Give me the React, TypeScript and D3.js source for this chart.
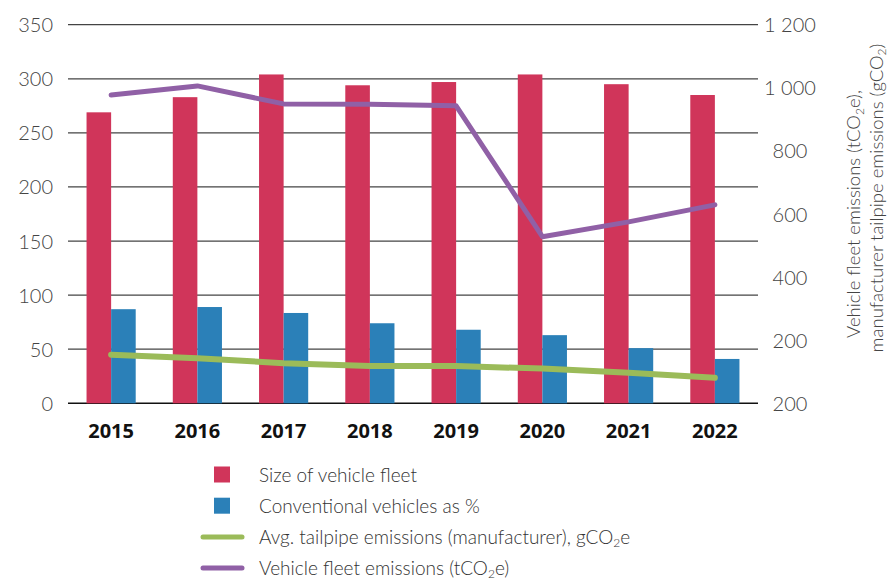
import * as React from "react";
import * as d3 from "d3";

const years = ["2015", "2016", "2017", "2018", "2019", "2020", "2021", "2022"];
const fleetSize = [269, 283, 304, 294, 297, 304, 295, 285];
const conventionalPct = [87, 89, 83.5, 74, 68, 63, 51, 41];
const tailpipe = [154, 143, 127, 118, 118, 110, 97, 81];
const fleetEmissions = [977, 1006, 949, 948, 943, 528, 575, 629];
const leftTicks = [0, 50, 100, 150, 200, 250, 300, 350];
const rightTicks = [0, 200, 400, 600, 800, 1000, 1200];
const rightTickLabels = ["200", "200", "400", "600", "800", "1 000", "1 200"];

const RED = "#d0355a";
const BLUE = "#2b80b8";
const GREEN = "#9bbb59";
const PURPLE = "#9060a6";
const FONT = "Lato, 'Open Sans', sans-serif";

export default function App() {
  const width = 890;
  const height = 582;
  const left = 68;
  const right = 758;
  const top = 24.7;
  const bottom = 403.3;

  const x = d3
    .scaleBand()
    .domain(years)
    .range([left, right])
    .paddingInner(0.43)
    .paddingOuter(0.215);
  const sub = d3
    .scaleBand()
    .domain(["fleet", "conv"])
    .range([0, x.bandwidth()]);
  const yL = d3.scaleLinear().domain([0, 350]).range([bottom, top]);
  const yR = d3.scaleLinear().domain([0, 1200]).range([bottom, top]);

  const cx = (d) => x(d) + x.bandwidth() / 2;
  const line = d3
    .line()
    .x((d) => cx(d[0]))
    .y((d) => yR(d[1]));

  const tailPts = years.map((y, i) => [y, tailpipe[i]]);
  const fleetPts = years.map((y, i) => [y, fleetEmissions[i]]);

  const legend = [
    { type: "box", color: RED, label: ["Size of vehicle fleet"] },
    { type: "box", color: BLUE, label: ["Conventional vehicles as %"] },
    {
      type: "line",
      color: GREEN,
      label: ["Avg. tailpipe emissions (manufacturer), gCO", "2", "e"],
    },
    { type: "line", color: PURPLE, label: ["Vehicle fleet emissions (tCO", "2", "e)"] },
  ];

  return (
    <svg
      width={width}
      height={height}
      style={{ position: "absolute", left: 0, top: 0 }}
      fontFamily={FONT}
    >
      {/* gridlines + left axis */}
      {leftTicks.map((t) => (
        <g key={t}>
          <line
            x1={left}
            x2={right}
            y1={yL(t)}
            y2={yL(t)}
            stroke={t === 0 ? "#111" : "#444"}
            strokeWidth={t === 0 ? 1.6 : 1.3}
          />
          <text
            x={53}
            y={yL(t) + 7.5}
            textAnchor="end"
            fontSize={20}
            fontWeight={300}
            fill="#444"
          >
            {t}
          </text>
        </g>
      ))}

      {/* right axis labels */}
      {rightTicks.map((t, i) => (
        <text
          key={t}
          x={790}
          y={yR(t) + 7.5}
          textAnchor="middle"
          fontSize={20}
          fontWeight={300}
          fill="#444"
        >
          {rightTickLabels[i]}
        </text>
      ))}

      {/* right axis title */}
      <g transform="translate(860, 214) rotate(-90)">
        <text textAnchor="middle" fontSize={18.5} fontWeight={300} fill="#444">
          Vehicle fleet emissions (tCO
          <tspan fontSize={12} dy={4}>2</tspan>
          <tspan dy={-4}>e),</tspan>
        </text>
      </g>
      <g transform="translate(883, 198) rotate(-90)">
        <text textAnchor="middle" fontSize={18.5} fontWeight={300} fill="#444">
          manufacturer tailpipe emissions (gCO
          <tspan fontSize={12} dy={3}>2</tspan>
          <tspan dy={-3}>)</tspan>
        </text>
      </g>

      {/* bars */}
      {years.map((yr, i) => (
        <g key={yr} transform={`translate(${x(yr)},0)`}>
          <rect
            x={sub("fleet")}
            y={yL(fleetSize[i])}
            width={sub.bandwidth()}
            height={bottom - yL(fleetSize[i])}
            fill={RED}
          />
          <rect
            x={sub("conv")}
            y={yL(conventionalPct[i])}
            width={sub.bandwidth()}
            height={bottom - yL(conventionalPct[i])}
            fill={BLUE}
          />
        </g>
      ))}

      {/* lines */}
      <path
        d={line(tailPts)}
        fill="none"
        stroke={GREEN}
        strokeWidth={6}
        strokeLinecap="round"
        strokeLinejoin="round"
      />
      <path
        d={line(fleetPts)}
        fill="none"
        stroke={PURPLE}
        strokeWidth={5}
        strokeLinecap="round"
        strokeLinejoin="round"
      />

      {/* year labels */}
      {years.map((yr) => (
        <text
          key={yr}
          x={cx(yr)}
          y={438}
          textAnchor="middle"
          fontFamily="'Open Sans', sans-serif"
          fontWeight={700}
          fontSize={20}
          fill="#111"
        >
          {yr}
        </text>
      ))}

      {/* legend */}
      {legend.map((l, i) => {
        const ly = 474.5 + i * 31.2;
        return (
          <g key={i}>
            {l.type === "box" ? (
              <rect x={214} y={ly - 8} width={16} height={16} fill={l.color} />
            ) : (
              <line
                x1={203}
                x2={242}
                y1={ly}
                y2={ly}
                stroke={l.color}
                strokeWidth={5}
                strokeLinecap="round"
              />
            )}
            <text x={259} y={ly + 7} fontSize={19} fontWeight={300} fill="#333">
              {l.label[0]}
              {l.label.length > 1 && (
                <>
                  <tspan fontSize={12} dy={3}>{l.label[1]}</tspan>
                  <tspan dy={-3}>{l.label[2]}</tspan>
                </>
              )}
            </text>
          </g>
        );
      })}
    </svg>
  );
}
